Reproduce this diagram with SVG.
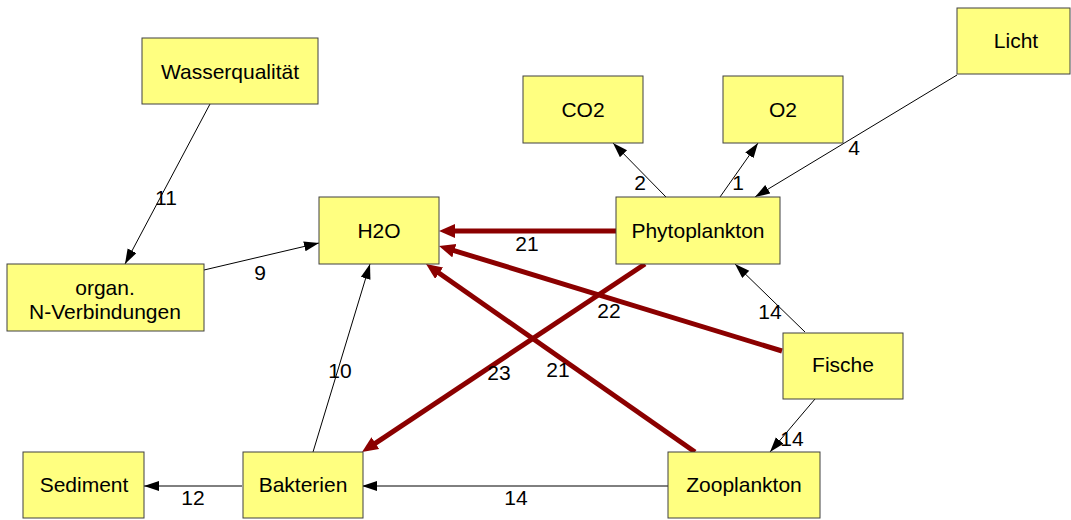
<svg xmlns="http://www.w3.org/2000/svg" width="1071" height="520" viewBox="0 0 1071 520">
<style>
.box{fill:#FFFF80;stroke:#404040;stroke-width:1}
.t{font-family:"Liberation Sans",Arial,sans-serif;font-size:21px;fill:#000;text-anchor:middle}
.thin{stroke:#000;stroke-width:1;fill:none}
.thick{stroke:#8B0000;stroke-width:5;fill:none}
</style>
<defs>
<marker id="ab" markerUnits="userSpaceOnUse" markerWidth="16" markerHeight="12" refX="15" refY="5" orient="auto">
<path d="M0,0 L15,5 L0,10 Z" fill="#000"/>
</marker>
<marker id="ar" markerUnits="userSpaceOnUse" markerWidth="18" markerHeight="16" refX="2" refY="7" orient="auto">
<path d="M0,0 L16,7 L0,14 Z" fill="#8B0000"/>
</marker>
</defs>
<rect width="1071" height="520" fill="#fff"/>
<g id="connectors">
<line class="thin" x1="210" y1="104" x2="125" y2="264" marker-end="url(#ab)"/>
<line class="thin" x1="204" y1="270" x2="319" y2="243" marker-end="url(#ab)"/>
<line class="thin" x1="313" y1="452" x2="370" y2="264" marker-end="url(#ab)"/>
<line class="thin" x1="242" y1="486" x2="144" y2="486" marker-end="url(#ab)"/>
<line class="thin" x1="668" y1="486" x2="362" y2="486" marker-end="url(#ab)"/>
<line class="thin" x1="666" y1="197" x2="613" y2="143" marker-end="url(#ab)"/>
<line class="thin" x1="720" y1="197" x2="758" y2="143" marker-end="url(#ab)"/>
<line class="thin" x1="957" y1="75" x2="755" y2="197" marker-end="url(#ab)"/>
<line class="thin" x1="805" y1="332" x2="735" y2="264" marker-end="url(#ab)"/>
<line class="thin" x1="815" y1="399" x2="770" y2="452" marker-end="url(#ab)"/>
<line class="thick" x1="616" y1="231" x2="453" y2="231" marker-end="url(#ar)"/>
<line class="thick" x1="782" y1="351" x2="452.4" y2="250.1" marker-end="url(#ar)"/>
<line class="thick" x1="695" y1="452" x2="437.5" y2="272" marker-end="url(#ar)"/>
<line class="thick" x1="645" y1="264" x2="373.7" y2="444.3" marker-end="url(#ar)"/>
<text class="t" x="166" y="205">11</text>
<text class="t" x="260" y="280">9</text>
<text class="t" x="340" y="378">10</text>
<text class="t" x="193" y="505">12</text>
<text class="t" x="516" y="505">14</text>
<text class="t" x="640" y="190">2</text>
<text class="t" x="738" y="190">1</text>
<text class="t" x="854" y="155">4</text>
<text class="t" x="770" y="319">14</text>
<text class="t" x="792" y="446">14</text>
<text class="t" x="527" y="251">21</text>
<text class="t" x="609" y="318">22</text>
<text class="t" x="558" y="377">21</text>
<text class="t" x="499" y="380">23</text>
</g>
<g id="wasserqualitaet"><rect class="box" x="142" y="38" width="176" height="66"/><text class="t" x="230" y="79">Wasserqualität</text></g>
<g id="licht"><rect class="box" x="957" y="8" width="113" height="66"/><text class="t" x="1016" y="48">Licht</text></g>
<g id="co2"><rect class="box" x="523" y="76" width="120" height="67"/><text class="t" x="583" y="117">CO2</text></g>
<g id="o2"><rect class="box" x="723" y="76" width="120" height="67"/><text class="t" x="783" y="117">O2</text></g>
<g id="h2o"><rect class="box" x="319" y="197" width="120" height="67"/><text class="t" x="379" y="238">H2O</text></g>
<g id="phytoplankton"><rect class="box" x="616" y="197" width="164" height="67"/><text class="t" x="698" y="238">Phytoplankton</text></g>
<g id="organ"><rect class="box" x="7" y="264" width="197" height="67"/><text class="t" x="105" y="295">organ.</text><text class="t" x="105" y="319">N-Verbindungen</text></g>
<g id="fische"><rect class="box" x="783" y="333" width="120" height="66"/><text class="t" x="843" y="372">Fische</text></g>
<g id="zooplankton"><rect class="box" x="668" y="452" width="152" height="66"/><text class="t" x="744" y="492">Zooplankton</text></g>
<g id="bakterien"><rect class="box" x="243" y="452" width="120" height="66"/><text class="t" x="303" y="492">Bakterien</text></g>
<g id="sediment"><rect class="box" x="23" y="452" width="121" height="66"/><text class="t" x="84" y="492">Sediment</text></g>
</svg>
